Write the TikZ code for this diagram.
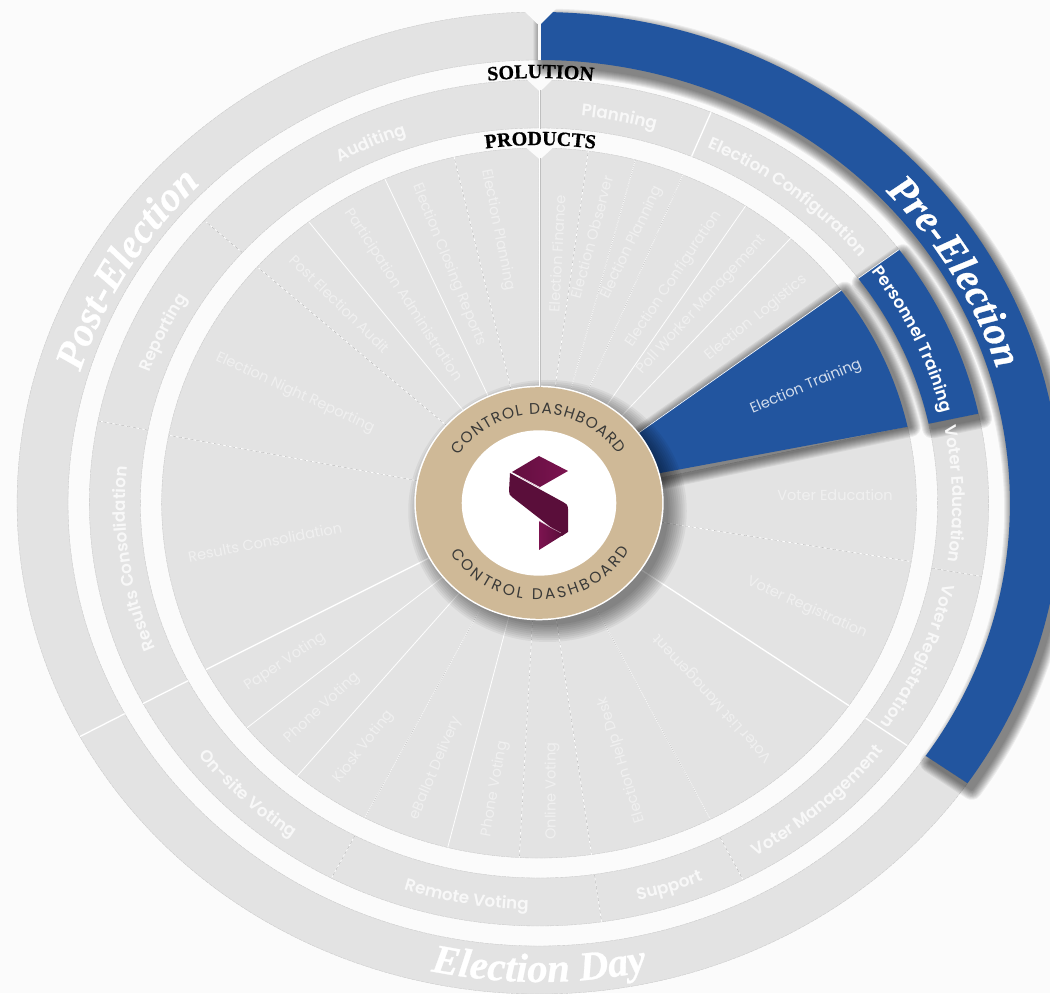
\documentclass[tikz,border=0pt]{standalone}
\usepackage{fontspec}
\setmainfont{Poppins}
\newfontfamily\semib{Poppins}[UprightFont=* SemiBold]
\newfontfamily\srf{Liberation Serif}[BoldFeatures={FakeBold=0.7},BoldItalicFeatures={FakeBold=0.7}]
\usetikzlibrary{decorations.text}
\definecolor{bgc}{HTML}{FBFBFB}
\definecolor{greyc}{HTML}{E3E3E3}
\definecolor{bluec}{HTML}{22559F}
\definecolor{tanc}{HTML}{CFB997}
\definecolor{maroon}{HTML}{7C1350}
\definecolor{maroond}{HTML}{5A0E3A}
\definecolor{hubtxt}{HTML}{3A3A38}
\definecolor{wheeltxt}{HTML}{F0F0F0}
\definecolor{ringtxt}{HTML}{F8F8F8}
\tikzset{
  greysec/.style={fill=greyc,draw=black!22,line width=.25pt,dash pattern=on 3pt off .6pt},
  bluesec/.style={fill=bluec},
  sepw/.style={draw=white!95!greyc,line width=.6pt},
  sepstrong/.style={draw=white,line width=1pt},
  sepd/.style={draw=black!35,line width=.25pt,dash pattern=on 2.5pt off 2pt},
  whlabel/.style={text=wheeltxt,font=\fontsize{10.9}{11}\selectfont,inner sep=0pt},
  bllabel/.style={text=white!80!bluec,font=\fontsize{10.9}{11}\selectfont,inner sep=0pt}
}
\newcommand\ringfont{\color{ringtxt}\semib\fontsize{12.6}{12}\selectfont}
\newcommand\whitefont{\color{white}\semib\fontsize{12.6}{12}\selectfont}
\newcommand\bigfont{\color{white}\srf\bfseries\itshape\fontsize{30.5}{32}\selectfont}
\newcommand\capfont{\color{black}\srf\bfseries\fontsize{15}{15}\selectfont}
\newcommand\hubfont{\color{hubtxt}\fontsize{11.6}{11}\selectfont}
\newcommand\sector[5]{\path[#1] (#2:#5) arc[start angle=#2,end angle=#3,radius=#5] -- (#3:#4) arc[start angle=#3,end angle=#2,radius=#4] -- cycle;}
\newcommand\softshadow[6]{\foreach \i in {10,...,1}{%
  \begin{scope}[transparency group,opacity=.06]
  \path[draw=black,fill=black,line join=round,line width=\i*1.5pt,shift={(#5pt,#6pt)}]
   (#1:#4) arc[start angle=#1,end angle=#2,radius=#4] -- (#2:#3) arc[start angle=#2,end angle=#1,radius=#3] -- cycle;
  \end{scope}}}
\newcommand\toplabel[4]{\pgfmathsetmacro\aa{#1+45}\pgfmathsetmacro\ab{#1-45}%
  \path[decorate,decoration={text along path,text align=center,text={|#3|#4}}] (\aa:#2) arc[start angle=\aa,end angle=\ab,radius=#2];}
\newcommand\botlabel[4]{\pgfmathsetmacro\aa{#1-45}\pgfmathsetmacro\ab{#1+45}%
  \path[decorate,decoration={text along path,text align=center,text={|#3|#4}}] (\aa:#2) arc[start angle=\aa,end angle=\ab,radius=#2];}
\begin{document}
\begin{tikzpicture}[x=.75pt,y=.75pt]
\useasboundingbox (0,0) rectangle (1050,993);
\clip (0,0) rectangle (1050,993);
\fill[bgc] (0,0) rectangle (1050,993);
\begin{scope}[shift={(539,490)},xscale=1.063]
  \sector{greysec}{90}{208.4}{443}{491}
  \sector{greysec}{208.4}{325.2}{443}{491}
  \foreach \a/\b in {90/67.5,67.5/36.8,12.2/-10,-10/-35,-35/-63,-63/-82,-82/-117.5,-117.5/-151.7,-151.7/-191.2,-191.2/-221.9,-221.9/-270}{
    \sector{greysec}{\a}{\b}{375}{423}}
  \sector{greysec}{90}{36.8}{100}{355}
  \sector{greysec}{12.4}{-270}{100}{355}
  \foreach \a in {75.2,67.6,56.8,48.2,114.1,127.6,219.3,230.2,-63,242.5,256}{
    \draw[sepw] (\a:100) -- (\a:355);}
  \foreach \a in {-34.8,208}{
    \draw[sepstrong] (\a:100) -- (\a:355);}
  \foreach \a in {82.5,103,138.3,169,-9.5,267,-82}{
    \draw[sepw] (\a:100) -- (\a:355);
    \draw[sepd] (\a:116) -- (\a:355);}
  \foreach \a in {75.2,67.6,242.5,-63}{
    \draw[draw=black!30,line width=.25pt,dash pattern=on .8pt off .8pt] (\a:116) -- (\a:355);}
  \foreach \a in {67.5,-35,208.3}{\draw[sepstrong] (\a:375) -- (\a:423);}
  \foreach \a in {-10,138.1,168.8,-82,-63,-117.5}{
    \draw[sepw] (\a:375) -- (\a:423);
    \draw[sepd] (\a:375) -- (\a:423);}
  \draw[sepstrong] (208.4:443) -- (208.4:491);
  \softshadow{90}{-34.8}{443}{491}{3}{-5}
  \sector{bluesec}{90}{-34.8}{443}{491}
  \softshadow{36.8}{12.2}{375}{423}{2.5}{-3.5}
  \sector{bluesec}{36.8}{12.2}{375}{423}
  \softshadow{36.8}{12.6}{116}{355}{2.5}{-1}
  \path[bluesec] (36.8:355) arc[start angle=36.8,end angle=12.4,radius=355] -- (14.8:115) -- (37:115) -- cycle;
  \draw[white,line width=.5pt] (36.8:116) -- (36.8:355);
  \draw[white,line width=.5pt] (36.8:375) -- (36.8:423);
  \foreach \i in {10,...,1}{
    \fill[black,opacity=.05,shift={(6pt,-6pt)}] (0,0) circle[radius=112+\i*1.9];}
  \fill[white] (0,0) circle[radius=117.3];
  \fill[tanc] (0,0) circle[radius=115.8];
  \fill[white] (0,0) circle[radius=72.7];
  \path[decorate,decoration={text along path,text align={fit to path},text={|\hubfont|CONTROL DASHBOARD}}]
     (148:89) arc[start angle=148,end angle=33,radius=89];
  \path[decorate,decoration={text along path,text align={fit to path},text={|\hubfont|CONTROL DASHBOARD}}]
     (211:97) arc[start angle=211,end angle=331,radius=97];
  \toplabel{29.8}{451}{\bigfont}{Pre-Election}
  \toplabel{149.7}{451}{\bigfont}{Post-Election}
  \botlabel{270}{479}{\bigfont}{Election Day}
  \toplabel{78.6}{389}{\ringfont}{Planning}
  \toplabel{51.8}{389}{\ringfont}{Election Configuration}
  \toplabel{24.3}{389}{\whitefont}{Personnel Training}
  \toplabel{1.3}{389}{\ringfont}{Voter Education}
  \toplabel{-22.6}{389}{\ringfont}{Voter Registration}
  \botlabel{-47.9}{408}{\ringfont}{Voter Management}
  \botlabel{-71.8}{408}{\ringfont}{Support}
  \botlabel{259.9}{407}{\ringfont}{Remote Voting}
  \botlabel{225.9}{408}{\ringfont}{On-site Voting}
  \toplabel{188.1}{389}{\ringfont}{Results Consolidation}
  \toplabel{155}{389}{\ringfont}{Reporting}
  \toplabel{114.4}{389}{\ringfont}{Auditing}
\end{scope}
\begin{scope}[x=.75pt,y=-.75pt,shift={(0,-993)}]
  \fill[bgc] (521,8) -- (537.5,24) -- (541,24) -- (557,8) -- cycle;
  \fill[bgc] (537.5,8) rectangle (541,60.5);
  \fill[bgc] (524,77) -- (539.3,91) -- (540.7,91) -- (555,77) -- cycle;
  \fill[bgc] (523,145) -- (539.3,159) -- (540.7,159) -- (556,145) -- cycle;
  \draw[white,line width=.9pt] (540,90) -- (540,129);
  \draw[white,line width=.9pt] (540,158) -- (540,387);
  \draw[black!25,line width=.25pt] (540.6,90) -- (540.6,129);
  \draw[black!25,line width=.25pt] (540.6,158) -- (540.6,387);
  \node[whlabel,rotate=87] (lFinance) at (557,254) {Election Finance};
  \node[whlabel,rotate=75] (lObserver) at (592,237) {Election Observer};
  \node[whlabel,rotate=64] (lPlanR) at (632,243) {Election Planning};
  \node[whlabel,rotate=56] (lConfig) at (674,279) {Election Configuration};
  \node[whlabel,rotate=47.5] (lPoll) at (702,305) {Poll Worker Management};
  \node[whlabel,rotate=38.9] (lLog) at (756,318) {Election\ \ Logistics};
  \node[bllabel,rotate=22.8] (lTrain) at (806,387) {Election Training};
  \node[whlabel] (lVEd) at (835,495) {Voter Education};
  \node[whlabel,rotate=-24] (lVReg) at (807,608) {Voter Registration};
  \node[whlabel,rotate=132.6] (lVList) at (713,698) {Voter List Management};
  \node[whlabel,rotate=107] (lHelp) at (622,760) {Election Help Desk};
  \node[whlabel,rotate=90] (lOnline) at (552,791) {Online Voting};
  \node[whlabel,rotate=80] (lPhoneA) at (495,789) {Phone Voting};
  \node[whlabel,rotate=67] (lBallot) at (436,768) {eBallot Delivery};
  \node[whlabel,rotate=52] (lKiosk) at (364,747) {Kiosk Voting};
  \node[whlabel,rotate=42.6] (lPhoneB) at (322,708) {Phone Voting};
  \node[whlabel,rotate=33.5] (lPaper) at (285,662) {Paper Voting};
  \node[whlabel,rotate=11] (lResults) at (265,542) {Results Consolidation};
  \node[whlabel,rotate=-24.7] (lNight) at (295,393) {Election Night Reporting};
  \node[whlabel,rotate=-44.4] (lAudit) at (340,304) {Post Election Audit};
  \node[whlabel,rotate=-57] (lPart) at (403,295) {Participation Administration};
  \node[whlabel,rotate=-68] (lClose) at (449,265) {Election Closing Reports};
  \node[whlabel,rotate=-78.7] (lPlanL) at (498,230) {Election Planning};
  \shade[left color=maroon!80!black,right color=maroon]
    (539,456) -- (568,471) -- (540,487) -- (512,472) -- cycle;
  \shade[left color=maroon,right color=maroond]
    (539,521) -- (563,535) -- (539,550) -- cycle;
  \shade[left color=maroond,middle color=maroon,right color=maroond]
    (510,473) -- (509,491) .. controls (509,494) and (510,496) .. (512,497)
    -- (562,536) -- (568,532) -- (568,509) .. controls (568,505) and (566,503) .. (563,502) -- cycle;
  \draw[white!60!maroon,line width=.3pt] (520,477) -- (540,488);
  \draw[white!60!maroon,line width=.3pt] (539,521) -- (561,533);
\end{scope}
\begin{scope}[shift={(539,490)},xscale=1.063]
  \toplabel{89.8}{425}{\capfont}{SOLUTION}
  \toplabel{89.8}{358}{\capfont}{PRODUCTS}
\end{scope}
\end{tikzpicture}
\end{document}
